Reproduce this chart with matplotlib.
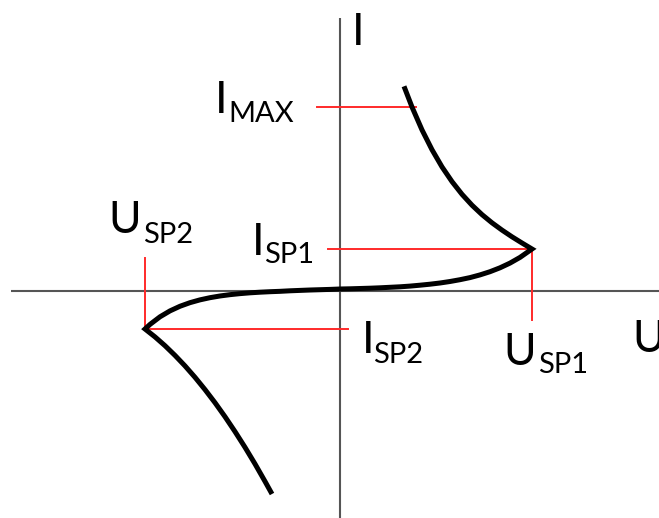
import matplotlib
matplotlib.use("Agg")
import matplotlib.pyplot as plt

# Curve data (U, I); origin at the axis crossing
upper_u = [64, 72, 82, 92, 102, 112, 122, 132, 142, 152, 162, 172, 182, 192]
upper_i = [204.7, 184, 161.1, 141.3, 124.1, 109.4, 96.7, 85.8, 76.4, 68.2, 60.9, 54.2, 48.0, 42]

mid_u = [192, 180, 170, 160, 150, 140, 130, 120, 110, 100, 90, 80, 70, 60, 50, 40, 30, 20, 10, 0,
         -10, -20, -30, -40, -50, -60, -70, -80, -90, -100, -110, -120, -130, -140, -150,
         -160, -170, -180, -190, -195]
mid_i = [42, 33.6, 27.9, 23.2, 19.3, 16.1, 13.4, 11.3, 9.5, 8.0, 6.8, 5.8, 4.9, 4.2, 3.7, 3.2,
         2.8, 2.5, 2.2, 2.0,
         1.6, 1.3, 1.0, 0.6, 0.2, -0.33, -0.71, -1.2, -1.82, -2.63, -3.66, -4.98, -6.68,
         -8.86, -11.66, -15.26, -19.88, -25.8, -33.4, -38]

lower_u = [-195, -185, -175, -165, -155, -145, -135, -125, -115, -105, -95, -85, -75, -68]
lower_i = [-38, -45.9, -54.7, -64.4, -74.9, -86.3, -98.6, -111.7, -125.7, -140.6, -156.3,
           -172.9, -190.4, -203]

# Characteristic values
U_SP1, I_SP1 = 192, 42
U_SP2, I_SP2 = -195, -38
I_MAX = 184

plt.rcParams['font.family'] = ['Lato', 'DejaVu Sans']

fig = plt.figure(figsize=(6.59, 5.18), dpi=100)
ax = fig.add_axes([0, 0, 1, 1])
ax.set_xlim(-340, 319)
ax.set_ylim(-227, 291)
ax.axis('off')

axis_col = '#555555'
red = '#ff2a2a'

# Axes
ax.plot([-329, 319], [0, 0], color=axis_col, lw=1.5, solid_capstyle='butt')
ax.plot([0, 0], [-227, 273], color=axis_col, lw=1.5, solid_capstyle='butt')

# Red guide lines
ax.plot([-23, 76], [I_MAX, I_MAX], color=red, lw=1.4)
ax.plot([-12, U_SP1], [I_SP1, I_SP1], color=red, lw=1.4)
ax.plot([U_SP1, U_SP1], [I_SP1, -29], color=red, lw=1.4)
ax.plot([U_SP2, U_SP2], [33, I_SP2], color=red, lw=1.4)
ax.plot([U_SP2, 8], [I_SP2, I_SP2], color=red, lw=1.4)

# Curve
cu = upper_u + mid_u[1:] + lower_u[1:]
ci = upper_i + mid_i[1:] + lower_i[1:]
ax.plot(cu, ci, color='black', lw=3.6, solid_joinstyle='miter', solid_capstyle='butt')

big = 32
small = 21


def lbl(x, y, main, sub=None, subx=None, suby=None):
    ax.text(x, y, main, fontsize=big, ha='left', va='baseline')
    if sub:
        ax.text(subx, suby, sub, fontsize=small, ha='left', va='baseline')


# pixel -> data helper for label placement
def px(xp, yp):
    return xp - 340, 291 - yp


x, y = px(352, 45)
lbl(x, y, 'I')
x, y = px(215, 113); sx, sy = px(228, 122)
lbl(x, y, 'I', 'MAX', sx, sy)
x, y = px(108, 233); sx, sy = px(143, 243)
lbl(x, y, 'U', 'SP2', sx, sy)
x, y = px(252, 255); sx, sy = px(264, 263)
lbl(x, y, 'I', 'SP1', sx, sy)
x, y = px(362, 353); sx, sy = px(373, 363)
lbl(x, y, 'I', 'SP2', sx, sy)
x, y = px(503, 365); sx, sy = px(538, 373)
lbl(x, y, 'U', 'SP1', sx, sy)
x, y = px(632, 352)
lbl(x, y, 'U')

fig.savefig('out.png', dpi=100)
